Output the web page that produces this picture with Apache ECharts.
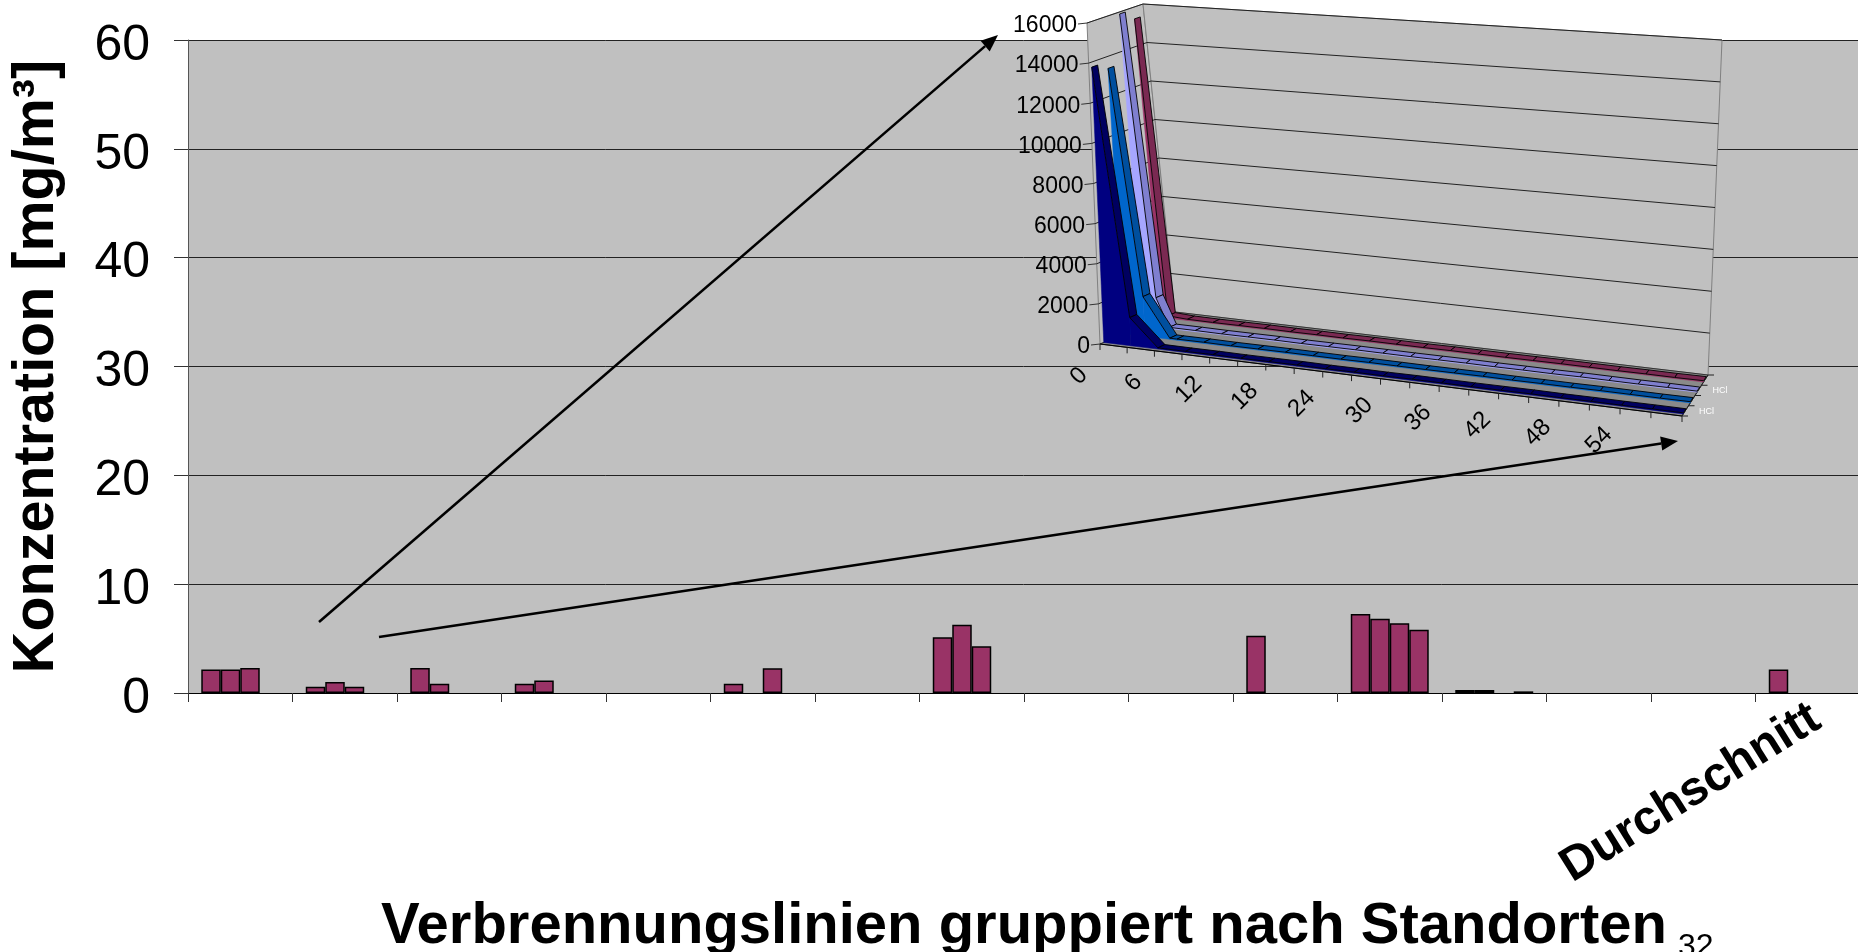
<!DOCTYPE html>
<html><head><meta charset="utf-8">
<style>html,body{margin:0;padding:0;background:#fff;overflow:hidden}#c{width:1858px;height:952px}</style>
<script src="https://cdn.jsdelivr.net/npm/echarts@6/dist/echarts.min.js"></script>
</head><body><div id="c"></div>
<script>
// ---- main chart data
const categories = ['','','','','','','','','','','','','','','','Durchschnitt'];
const slot1 = [2.15,0.58,2.3,0.86,null,0.86,null,5.12,null,null,5.25,7.26,0.28,null,null,2.15];
const slot2 = [2.15,1.0,0.86,1.16,null,null,null,6.28,null,null,null,6.83,0.28,null,null,null];
const slot3 = [2.3,0.58,null,null,null,2.27,null,4.29,null,null,null,6.4,null,null,null,null];
const slot4 = [null,null,null,null,null,null,null,null,null,null,null,5.82,0.15,null,null,null];
// ---- inset chart data
const insetValueTicks = [0,2000,4000,6000,8000,10000,12000,14000,16000];
const insetXTicks = [0,3,6,9,12,15,18,21,24,27,30,33,36,39,42,45,48,51,54,57,60];
const insetXLabels = [0,6,12,18,24,30,36,42,48,54];
const tailX = [6,9,12,15,18,21,24,27,30,33,36,39,42,45,48,51,54,57,60];
const navyX = [0,3], navyV = [13750,1400];
const navyTail = [60,55,60,50,55,60,50,55,50,60,55,50,55,60,50,55,50,55,50];
const blueX = [0,2.4,5.2], blueV = [13400,2000,60];
const blueTail = [55,60,50,55,60,55,50,60,55,50,55,60,50,55,50,60,55,50,55];
const periX = [0,1.7,3], periV = [15900,1500,60];
const periTail = [60,50,55,60,50,55,60,55,50,55,60,50,55,50,60,55,50,55,50];
const maroonX = [0,0.7,3], maroonV = [15400,120,60];
const maroonTail = [50,55,60,50,55,50,60,55,50,60,55,50,55,60,55,50,55,50,60];

// ---- oblique projection of the inset's box (screen corners of the 3D box)
const C = {
  f0:[1100,344], f1:[1682,416], b0:[1175,312], b1:[1708,375],
  F0:[1087,23],  F1:[1715,66],  B0:[1143,4],   B1:[1722,40]
};
const mix=(a,b,t)=>[a[0]+(b[0]-a[0])*t,a[1]+(b[1]-a[1])*t];
function P(u,z,h){
  const w=.928*u+.072*u*u;
  const bot=mix(mix(C.f0,C.f1,w),mix(C.b0,C.b1,w),z);
  const top=mix(mix(C.F0,C.F1,w),mix(C.B0,C.B1,w),z);
  return mix(bot,top,h);
}
function pr(params,api,x,v,z){
  const c=api.coord([x,v]), r=params.coordSys;
  return P((c[0]-r.x)/r.width,z,(r.y+r.height-c[1])/r.height);
}
const poly=(points,fill,stroke,lw)=>({type:'polygon',shape:{points},style:{fill,stroke:stroke||'none',lineWidth:lw||0}});
const seg=(a,b,stroke,lw)=>({type:'line',shape:{x1:a[0],y1:a[1],x2:b[0],y2:b[1]},style:{stroke,lineWidth:lw||1}});

function ribbon(name,xs,vs,tail,z0,z1,face,top,order){
  const X=xs.concat(tailX), V=vs.concat(tail);
  const data=X.slice(0,-1).map((x,i)=>[x,V[i],X[i+1],V[i+1]]);
  return {type:'custom',name,xAxisIndex:1,yAxisIndex:1,z:order,silent:true,animation:false,data,
    encode:{x:[0,2],y:[1,3]},
    renderItem(params,api){
      const x0=api.value(0),v0=api.value(1),x1=api.value(2),v1=api.value(3);
      const a=pr(params,api,x0,v0,z0),b=pr(params,api,x1,v1,z0),
            c=pr(params,api,x1,0,z0),d=pr(params,api,x0,0,z0),
            e=pr(params,api,x1,v1,z1),f=pr(params,api,x0,v0,z1);
      return {type:'group',children:[
        poly([a,b,c,d],face,face,.5),
        poly([a,b,e,f],top,'#000',.9)
      ]};
    }};
}

const walls={type:'custom',name:'walls',xAxisIndex:1,yAxisIndex:1,z:3,silent:true,animation:false,data:[[0,0]],
  renderItem(){
    return {type:'group',children:[
      poly([P(0,0,0),P(0,1,0),P(0,1,1),P(0,0,1)],'#C0C0C0','#808080',1),
      poly([P(0,1,0),P(1,1,0),P(1,1,1),P(0,1,1)],'#C0C0C0','#808080',1),
      poly([P(0,0,0),P(1,0,0),P(1,1,0),P(0,1,0)],'#8A8A8A','#333',1),
      seg(P(0,0,0),P(1,0,0),'#000',1.2),
      seg(P(1,0,0),P(1,1,0),'#222',1)
    ]};
  }};
const valueGrid={type:'custom',name:'valueTicks',xAxisIndex:1,yAxisIndex:1,z:4,silent:true,animation:false,
  data:insetValueTicks.map(v=>[0,v]),
  renderItem(params,api){
    const v=api.value(1);
    const a=pr(params,api,0,v,0),b=pr(params,api,0,v,1),c=pr(params,api,60,v,1);
    const kids=[seg([a[0]-9,a[1]+1],a,'#333',1)];
    if(v>0){kids.push(seg(a,b,'#222',1),seg(b,c,'#222',1));}
    kids.push({type:'text',style:{text:String(v),x:a[0]-10,y:a[1]+3,align:'right',verticalAlign:'middle',
      font:'23px "Liberation Sans"',fill:'#000'}});
    return {type:'group',children:kids};
  }};
const xTicks={type:'custom',name:'xTicks',xAxisIndex:1,yAxisIndex:1,z:4,silent:true,animation:false,
  data:insetXTicks.map(x=>[x,0]),
  renderItem(params,api){
    const x=api.value(0),a=pr(params,api,x,0,0);
    return seg(a,[a[0],a[1]+6],'#222',1);
  }};
const xLabels={type:'custom',name:'xLabels',xAxisIndex:1,yAxisIndex:1,z:12,silent:true,animation:false,
  data:insetXLabels.map(x=>[x,0]),
  renderItem(params,api){
    const x=api.value(0),a=pr(params,api,x,0,0);
    return {type:'text',x:a[0]-21,y:a[1]+32,rotation:Math.PI/4,
      style:{text:String(x),x:0,y:0,align:'center',verticalAlign:'middle',font:'24px "Liberation Sans"',fill:'#000'}};
  }};
const depth={type:'custom',name:'depth',xAxisIndex:1,yAxisIndex:1,z:12,silent:true,animation:false,data:[[0,0]],
  renderItem(){
    const kids=[0,.25,.5,.75,1].map(z=>{const a=P(1,z,0);return seg(a,[a[0]+6,a[1]],'#222',1);});
    [.12,.63].forEach(z=>{const a=P(1,z,0);kids.push({type:'text',style:{text:'HCl',x:a[0]+14,y:a[1],
      align:'left',verticalAlign:'middle',font:'9px "Liberation Sans"',fill:'#fff'}});});
    return {type:'group',children:kids};
  }};

const barStyle={color:'#993366',borderColor:'#000',borderWidth:1.5};
const bar=(name,data)=>({type:'bar',name,data,barGap:0,barCategoryGap:'25.4%',itemStyle:barStyle,silent:true,animation:false,z:2});
const arrow=(x1,y1,x2,y2)=>{
  const t=Math.atan2(y2-y1,x2-x1),L=17,W=7;
  const bx=x2-L*Math.cos(t),by=y2-L*Math.sin(t);
  return [
    {type:'line',z:20,shape:{x1,y1,x2:bx,y2:by},style:{stroke:'#000',lineWidth:2.6}},
    {type:'polygon',z:20,shape:{points:[[x2,y2],[bx-W*Math.sin(t),by+W*Math.cos(t)],[bx+W*Math.sin(t),by-W*Math.cos(t)]]},style:{fill:'#000'}}
  ];
};

const chart=echarts.init(document.getElementById('c'),null,{renderer:'canvas'});
chart.setOption({
  animation:false,
  textStyle:{fontFamily:'"Liberation Sans"'},
  grid:[
    {left:188,top:40,width:1672,height:653,show:true,backgroundColor:'#C0C0C0',borderWidth:0,outerBoundsMode:'none',containLabel:false},
    {left:1100,top:23,width:582,height:321,show:false,outerBoundsMode:'none',containLabel:false}
  ],
  xAxis:[
    {type:'category',gridIndex:0,data:categories,
     axisLine:{lineStyle:{color:'#000',width:1.2}},
     axisTick:{show:true,length:9,alignWithLabel:false,lineStyle:{color:'#333'}},
     axisLabel:{interval:0,rotate:32,margin:27,padding:[0,-10,0,0],color:'#000',fontSize:48,fontWeight:'bold',fontFamily:'"Liberation Sans"'},
     name:'Verbrennungslinien gruppiert nach Standorten',nameLocation:'middle',nameGap:177,
     nameTextStyle:{fontSize:58,fontWeight:'bold',color:'#000',fontFamily:'"Liberation Sans"'}},
    {type:'value',gridIndex:1,min:0,max:60,show:false}
  ],
  yAxis:[
    {type:'value',gridIndex:0,min:0,max:60,interval:10,
     axisLine:{show:true,lineStyle:{color:'#555'}},
     axisTick:{show:true,length:14,lineStyle:{color:'#333'}},
     splitLine:{show:true,lineStyle:{color:'#222',width:1}},
     axisLabel:{margin:38,verticalAlign:'top',lineHeight:12,color:'#000',fontSize:50,fontFamily:'"Liberation Sans"'},
     name:'Konzentration [mg/m³]',nameLocation:'middle',nameGap:122,nameRotate:90,
     nameTextStyle:{fontSize:57.5,fontWeight:'bold',color:'#000',fontFamily:'"Liberation Sans"'}},
    {type:'value',gridIndex:1,min:0,max:16000,show:false}
  ],
  series:[
    bar('Linie 1',slot1),bar('Linie 2',slot2),bar('Linie 3',slot3),bar('Linie 4',slot4),
    walls,valueGrid,xTicks,
    ribbon('HCl 4',maroonX,maroonV,maroonTail,.83,.93,'#993366','#7A2952',5),
    ribbon('HCl 3',periX,periV,periTail,.58,.68,'#A6A6FF','#7F7FCF',6),
    ribbon('HCl 2',blueX,blueV,blueTail,.32,.42,'#0066CC','#004F9E',7),
    ribbon('HCl 1',navyX,navyV,navyTail,.05,.15,'#000080','#000060',8),
    xLabels,depth
  ],
  graphic:[
    ...arrow(319,622,998,35),
    ...arrow(379,637,1678,441),
    {type:'text',z:20,x:1678,y:931,style:{text:'32',font:'32px "Liberation Sans"',fill:'#000'}}
  ]
});
</script></body></html>
